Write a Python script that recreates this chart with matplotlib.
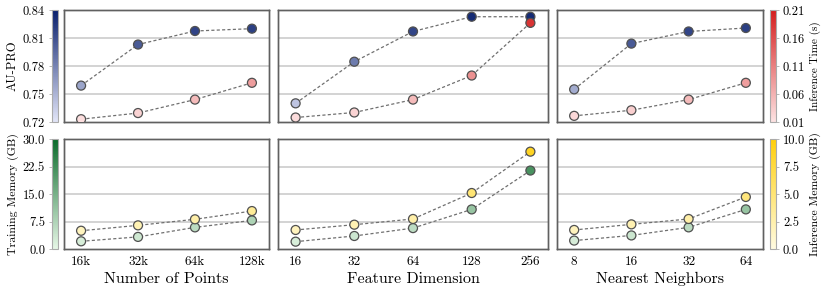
import numpy as np
import matplotlib
matplotlib.use("Agg")
import matplotlib.pyplot as plt
from matplotlib.colors import LinearSegmentedColormap, Normalize
from matplotlib.cm import ScalarMappable

plt.rcParams['font.family'] = ['cmr10', 'DejaVu Serif']
plt.rcParams['axes.formatter.use_mathtext'] = True

# data
pts_labels = ['16k', '32k', '64k', '128k']
dim_labels = ['16', '32', '64', '128', '256']
nn_labels = ['8', '16', '32', '64']
xlabels = ['Number of Points', 'Feature Dimension', 'Nearest Neighbors']
tick_sets = [pts_labels, dim_labels, nn_labels]

aupro = [
    [0.759, 0.803, 0.8175, 0.820],
    [0.740, 0.7846, 0.817, 0.8328, 0.8328],
    [0.755, 0.804, 0.817, 0.8207],
]
inf_time = [
    [0.015, 0.026, 0.050, 0.080],
    [0.018, 0.027, 0.050, 0.093, 0.187],
    [0.021, 0.031, 0.050, 0.080],
]
train_mem = [
    [2.1, 3.3, 5.9, 7.8],
    [2.0, 3.55, 5.7, 10.8, 21.4],
    [2.3, 3.7, 5.9, 10.8],
]
inf_mem = [
    [1.66, 2.15, 2.7, 3.45],
    [1.73, 2.21, 2.73, 5.09, 8.85],
    [1.73, 2.24, 2.73, 4.73],
]

cm_blue = LinearSegmentedColormap.from_list('b', ['#e2e5f8', '#081f6c'])
cm_red = LinearSegmentedColormap.from_list('r', ['#fde3e3', '#d41d1d'])
cm_green = LinearSegmentedColormap.from_list('g', ['#e6f7e6', '#0a6a2a'])
cm_yel = LinearSegmentedColormap.from_list('y', ['#fffbe2', '#ffcf0a'])

W, H = 822, 291
fig = plt.figure(figsize=(W / 100, H / 100), dpi=100)

def box(x0, y0, x1, y1):
    return [x0 / W, 1 - y1 / H, (x1 - x0) / W, (y1 - y0) / H]

cols = [(64, 269), (278, 548), (557, 763)]
rows = [(10, 122), (139, 249)]
spine_c = '#606060'
grid_c = '#cccccc'

def style(ax):
    for s in ax.spines.values():
        s.set_color(spine_c)
        s.set_linewidth(1.0)

def series(ax, y, vals, cmap, vmin, vmax, z):
    ax.plot(y[0], vals, ls='--', color='#707070', lw=0.9, dashes=(2.5, 1.8), zorder=z)
    ax.scatter(y[0], vals, c=vals, cmap=cmap, vmin=vmin, vmax=vmax, s=42,
               edgecolors='#505050', linewidths=0.9, zorder=z + 1)

for r in range(2):
    for c in range(3):
        ax = fig.add_axes(box(cols[c][0], rows[r][0], cols[c][1], rows[r][1]))
        n = len(tick_sets[c])
        x = np.arange(n)
        ax.set_xlim(-0.3, n - 1 + 0.3)
        style(ax)
        tw = ax.twinx()
        tw.set_xlim(-0.3, n - 1 + 0.3)
        style(tw)
        if r == 0:
            ax.set_ylim(0.72, 0.84)
            ax.set_yticks([0.75, 0.78, 0.81])
            tw.set_ylim(0.01, 0.21)
            series(ax, [x], aupro[c], cm_blue, 0.72, 0.84, 3)
            series(tw, [x], inf_time[c], cm_red, 0.01, 0.21, 3)
            ax.set_xticks(x)
            ax.set_xticklabels([])
        else:
            ax.set_ylim(0, 30)
            ax.set_yticks([7.5, 15, 22.5])
            tw.set_ylim(0, 10)
            series(ax, [x], train_mem[c], cm_green, 0, 30, 3)
            series(tw, [x], inf_mem[c], cm_yel, 0, 10, 3)
            ax.set_xticks(x)
            ax.set_xticklabels(tick_sets[c], fontsize=9.5)
            ax.set_xlabel(xlabels[c], fontsize=11.5, labelpad=3)
        ax.grid(axis='y', color=grid_c, lw=1.2)
        ax.set_axisbelow(True)
        ax.tick_params(axis='both', length=0, labelleft=False, pad=5)
        tw.tick_params(axis='both', length=0, labelright=False, labelleft=False)
        tw.set_yticks([])

def cbar(pos, cmap, vmin, vmax, ticks, fmt, label, side, lsize):
    cax = fig.add_axes(pos)
    sm = ScalarMappable(norm=Normalize(vmin, vmax), cmap=cmap)
    cb = fig.colorbar(sm, cax=cax, ticks=ticks)
    cb.ax.set_yticklabels([fmt % t for t in ticks])
    cb.outline.set_edgecolor('#aaaaaa')
    cb.outline.set_linewidth(0.8)
    cax.yaxis.set_ticks_position(side)
    cax.yaxis.set_label_position(side)
    cax.tick_params(length=2, width=0.6, color='#aaaaaa', labelsize=9, pad=3)
    cb.set_label(label, fontsize=lsize, labelpad=3)

cbar(box(52, 10, 58, 122), cm_blue, 0.72, 0.84, [0.72, 0.75, 0.78, 0.81, 0.84], '%.2f', 'AU-PRO', 'left', 9)
cbar(box(770, 10, 776, 122), cm_red, 0.01, 0.21, [0.01, 0.06, 0.11, 0.16, 0.21], '%.2f', 'Inference Time (s)', 'right', 8)
cbar(box(52, 139, 58, 249), cm_green, 0, 30, [0, 7.5, 15, 22.5, 30], '%.1f', 'Training Memory (GB)', 'left', 8.5)
cbar(box(770, 139, 776, 249), cm_yel, 0, 10, [0, 2.5, 5, 7.5, 10], '%.1f', 'Inference Memory (GB)', 'right', 8.5)

fig.savefig('out.png', dpi=100)
